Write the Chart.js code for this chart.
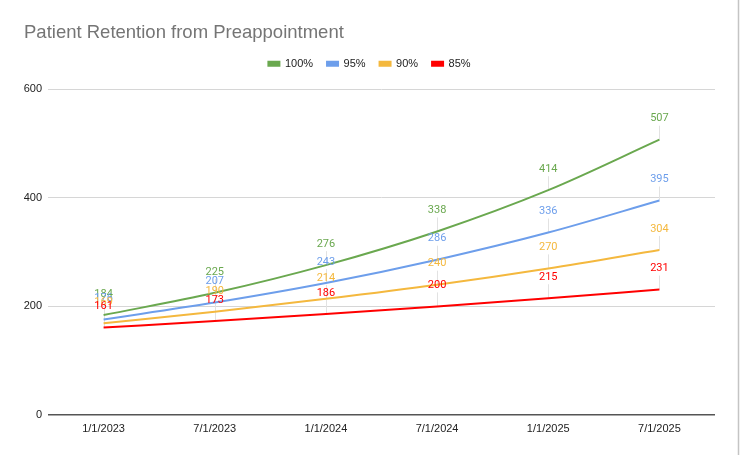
<!DOCTYPE html>
<html>
<head>
<meta charset="utf-8">
<script src="https://cdn.jsdelivr.net/npm/chart.js@4/dist/chart.umd.min.js"></script>
<style>
  html, body { margin: 0; padding: 0; background: #fff; }
  #wrap { position: relative; width: 740px; height: 455px; }
</style>
</head>
<body>
<div id="wrap"><canvas id="chart" width="740" height="455"></canvas></div>
<script>
'use strict';

// ─── Data ─────────────────────────────────────────────────────────────────────
const dates    = ['1/1/2023', '7/1/2023', '1/1/2024', '7/1/2024', '1/1/2025', '7/1/2025'];
const ret100   = [184, 225, 276, 338, 414, 507];
const ret95    = [176, 207, 243, 286, 336, 395];
const ret90    = [169, 190, 214, 240, 270, 304];
const ret85    = [161, 173, 186, 200, 215, 231];
const yTicks   = [0, 200, 400, 600];

const SERIES = [
  { label: '100%', data: ret100, color: '#6aa84f' },
  { label: '95%',  data: ret95,  color: '#6d9eeb' },
  { label: '90%',  data: ret90,  color: '#f4b83e' },
  { label: '85%',  data: ret85,  color: '#ff0000' },
];

const FONT = 'Arial, "Liberation Sans", sans-serif';

// ─── Point labels with leader lines (Sheets style) ───────────────────────────
const LABEL_RISE = 21;
const pointLabels = {
  id: 'pointLabels',
  beforeInit(chart) {
    // leave a gap between the legend and the plot
    const fit = chart.legend.fit;
    chart.legend.fit = function () { fit.call(this); this.height += 10; };
  },
  beforeDatasetsDraw(chart) {
    const ctx = chart.ctx;
    ctx.save();
    ctx.strokeStyle = '#e2e2e2';
    ctx.lineWidth = 1;
    chart.data.datasets.forEach((ds, i) => {
      chart.getDatasetMeta(i).data.forEach(pt => {
        const x = Math.round(pt.x) + 0.5;
        ctx.beginPath();
        ctx.moveTo(x, pt.y - LABEL_RISE + 7);
        ctx.lineTo(x, pt.y);
        ctx.stroke();
      });
    });
    ctx.restore();
  },
  afterDatasetsDraw(chart) {
    const ctx = chart.ctx;
    ctx.save();
    ctx.font = '11px Roboto, "Noto Sans", sans-serif';
    ctx.textAlign = 'center';
    ctx.textBaseline = 'middle';
    chart.data.datasets.forEach((ds, i) => {
      ctx.fillStyle = ds.borderColor;
      chart.getDatasetMeta(i).data.forEach((pt, j) => {
        ctx.fillText(String(ds.data[j]), pt.x, pt.y - LABEL_RISE);
      });
    });
    ctx.restore();
  },
  afterDraw(chart) {
    // thin frame on the right edge of the sheet
    const ctx = chart.ctx;
    ctx.save();
    ctx.strokeStyle = '#c4c4c4';
    ctx.lineWidth = 1.5;
    ctx.beginPath();
    ctx.moveTo(738.5, 0);
    ctx.lineTo(738.5, chart.height);
    ctx.stroke();
    ctx.restore();
  }
};

// ─── Chart ────────────────────────────────────────────────────────────────────
const ctx = document.getElementById('chart').getContext('2d');
new Chart(ctx, {
  type: 'line',
  data: {
    labels: dates,
    datasets: SERIES.map(s => ({
      label: s.label,
      data: s.data,
      borderColor: s.color,
      backgroundColor: s.color,
      borderWidth: 2,
      pointRadius: 0,
      pointHoverRadius: 0,
      cubicInterpolationMode: 'monotone',
      fill: false,
    }))
  },
  options: {
    responsive: false,
    animation: false,
    layout: { padding: { left: 24, right: 25, top: 12, bottom: 20 } },
    plugins: {
      title: {
        display: true,
        text: 'Patient Retention from Preappointment',
        align: 'start',
        color: '#757575',
        font: { family: FONT, size: 18.5, weight: 'normal' },
        padding: { top: 10, bottom: 0 }
      },
      legend: {
        position: 'top',
        labels: {
          boxWidth: 11,
          boxHeight: 4,
          padding: 14,
          color: '#222',
          font: { family: FONT, size: 11 }
        }
      },
      tooltip: { enabled: false }
    },
    scales: {
      x: {
        offset: true,
        grid: { display: false, drawTicks: false },
        border: { display: false },
        ticks: {
          color: '#222',
          padding: 7,
          maxRotation: 0,
          font: { family: FONT, size: 11 }
        },
        afterFit: s => { s.height = 20; }
      },
      y: {
        min: 0,
        max: 600,
        afterBuildTicks: s => { s.ticks = yTicks.map(v => ({ value: v })); },
        afterFit: s => { s.width = 24; },
        border: { display: false },
        grid: {
          drawTicks: false,
          color: c => c.tick.value === 0 ? '#555' : '#d6d6d6',
          lineWidth: c => c.tick.value === 0 ? 1.5 : 1
        },
        ticks: {
          color: '#222',
          padding: 6,
          font: { family: FONT, size: 11 }
        }
      }
    }
  },
  plugins: [pointLabels]
});
</script>
</body>
</html>
